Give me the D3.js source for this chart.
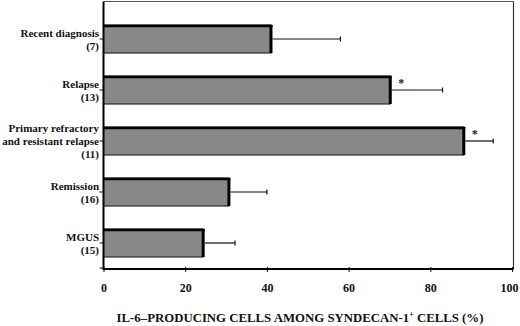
<!DOCTYPE html>
<html><head><meta charset="utf-8">
<script src="https://cdn.jsdelivr.net/npm/d3@7"></script>
<style>body{margin:0;background:#fff}svg{display:block}text{font-family:"Liberation Serif","Times New Roman",serif;font-weight:bold;fill:#111}</style>
</head><body><svg id="c" width="520" height="326"></svg>
<script>
const categories = [["Recent diagnosis","(7)"],["Relapse","(13)"],["Primary refractory","and resistant relapse","(11)"],["Remission","(16)"],["MGUS","(15)"]];
const values = [41, 70.2, 88.2, 30.7, 24.4];
const errors = [17, 12.8, 7.2, 9.3, 7.8];
const significant = [false, true, true, false, false];
const xTicks = [0, 20, 40, 60, 80, 100];
const xTitle = "IL-6\u2013PRODUCING CELLS AMONG SYNDECAN-1";

const svg = d3.select("#c");
const x = d3.scaleLinear().domain([0, 100]).range([103.5, 512]);
const y = d3.scaleBand().domain(d3.range(categories.length)).range([13.5, 268.5]).paddingInner(0.45).paddingOuter(0.225);
const yTop = 1.5, yBot = 269;

svg.append("line").attr("x1", x(0)).attr("x2", x(100) + 1.5).attr("y1", yTop).attr("y2", yTop).attr("stroke", "#555").attr("stroke-width", 1);
svg.append("line").attr("x1", x(100) + 1.5).attr("x2", x(100) + 1.5).attr("y1", yTop).attr("y2", yBot).attr("stroke", "#333").attr("stroke-width", 1.2);

const g = svg.append("g");
categories.forEach((c, i) => {
  const y0 = y(i), h = y.bandwidth(), xv = x(values[i]);
  g.append("rect").attr("x", x(0)).attr("y", y0).attr("width", xv - x(0)).attr("height", h)
    .attr("fill", "#888").attr("stroke", "#111").attr("stroke-width", 1);
  g.append("line").attr("x1", x(0)).attr("x2", xv + 1.5).attr("y1", y0 + 1).attr("y2", y0 + 1).attr("stroke", "#000").attr("stroke-width", 2.5);
  g.append("line").attr("x1", xv).attr("x2", xv).attr("y1", y0).attr("y2", y0 + h).attr("stroke", "#000").attr("stroke-width", 3);
  const cy = y0 + h / 2, xe = x(values[i] + errors[i]);
  g.append("line").attr("x1", xv + 1.5).attr("x2", xe).attr("y1", cy).attr("y2", cy).attr("stroke", "#111").attr("stroke-width", 1.2);
  g.append("line").attr("x1", xe).attr("x2", xe).attr("y1", cy - 2.5).attr("y2", cy + 2.5).attr("stroke", "#111").attr("stroke-width", 1.2);
  if (significant[i]) {
    g.append("text").attr("x", xv + 11).attr("y", y0 + 11).attr("text-anchor", "middle")
      .style("font-size", "12px").style("fill", "#222").text("*");
  }
  const cc = y0 + h / 2, n = c.length;
  const t = svg.append("text").attr("text-anchor", "end").style("font-size", "11px");
  c.forEach((line, j) => {
    t.append("tspan").attr("x", 99).attr("y", cc + 4 + (j - (n - 1) / 2) * 13).text(line);
  });
  svg.append("line").attr("x1", x(0) - 4).attr("x2", x(0)).attr("y1", cc).attr("y2", cc).attr("stroke", "#111").attr("stroke-width", 1);
});

const xAxis = d3.axisBottom(x).tickValues(xTicks).tickSize(3).tickFormat(d3.format("d"));
const ax = svg.append("g").attr("transform", `translate(0,${yBot})`).call(xAxis);
ax.select(".domain").remove();
ax.selectAll(".tick line").attr("stroke", "#111").attr("y1", -2).attr("y2", 3);
ax.selectAll(".tick text").attr("y", 14).style("font-size", "12px").style("font-family", "Liberation Serif, serif").attr("fill", "#111")
  .attr("dx", d => d === 100 ? -3 : 0);
svg.append("line").attr("x1", x(0) - 1).attr("x2", x(100) + 1.5).attr("y1", yBot).attr("y2", yBot).attr("stroke", "#000").attr("stroke-width", 2);
svg.append("line").attr("x1", x(0)).attr("x2", x(0)).attr("y1", yTop).attr("y2", yBot).attr("stroke", "#000").attr("stroke-width", 2);
svg.append("line").attr("x1", x(0) - 4).attr("x2", x(0)).attr("y1", yBot - 1).attr("y2", yBot - 1).attr("stroke", "#111").attr("stroke-width", 1);

const tt = svg.append("text").attr("x", 300).attr("y", 322).attr("text-anchor", "middle").style("font-size", "12.8px");
tt.append("tspan").text(xTitle);
tt.append("tspan").attr("dy", -5).style("font-size", "8px").text("+");
tt.append("tspan").attr("dy", 5).text(" CELLS (%)");
</script></body></html>
